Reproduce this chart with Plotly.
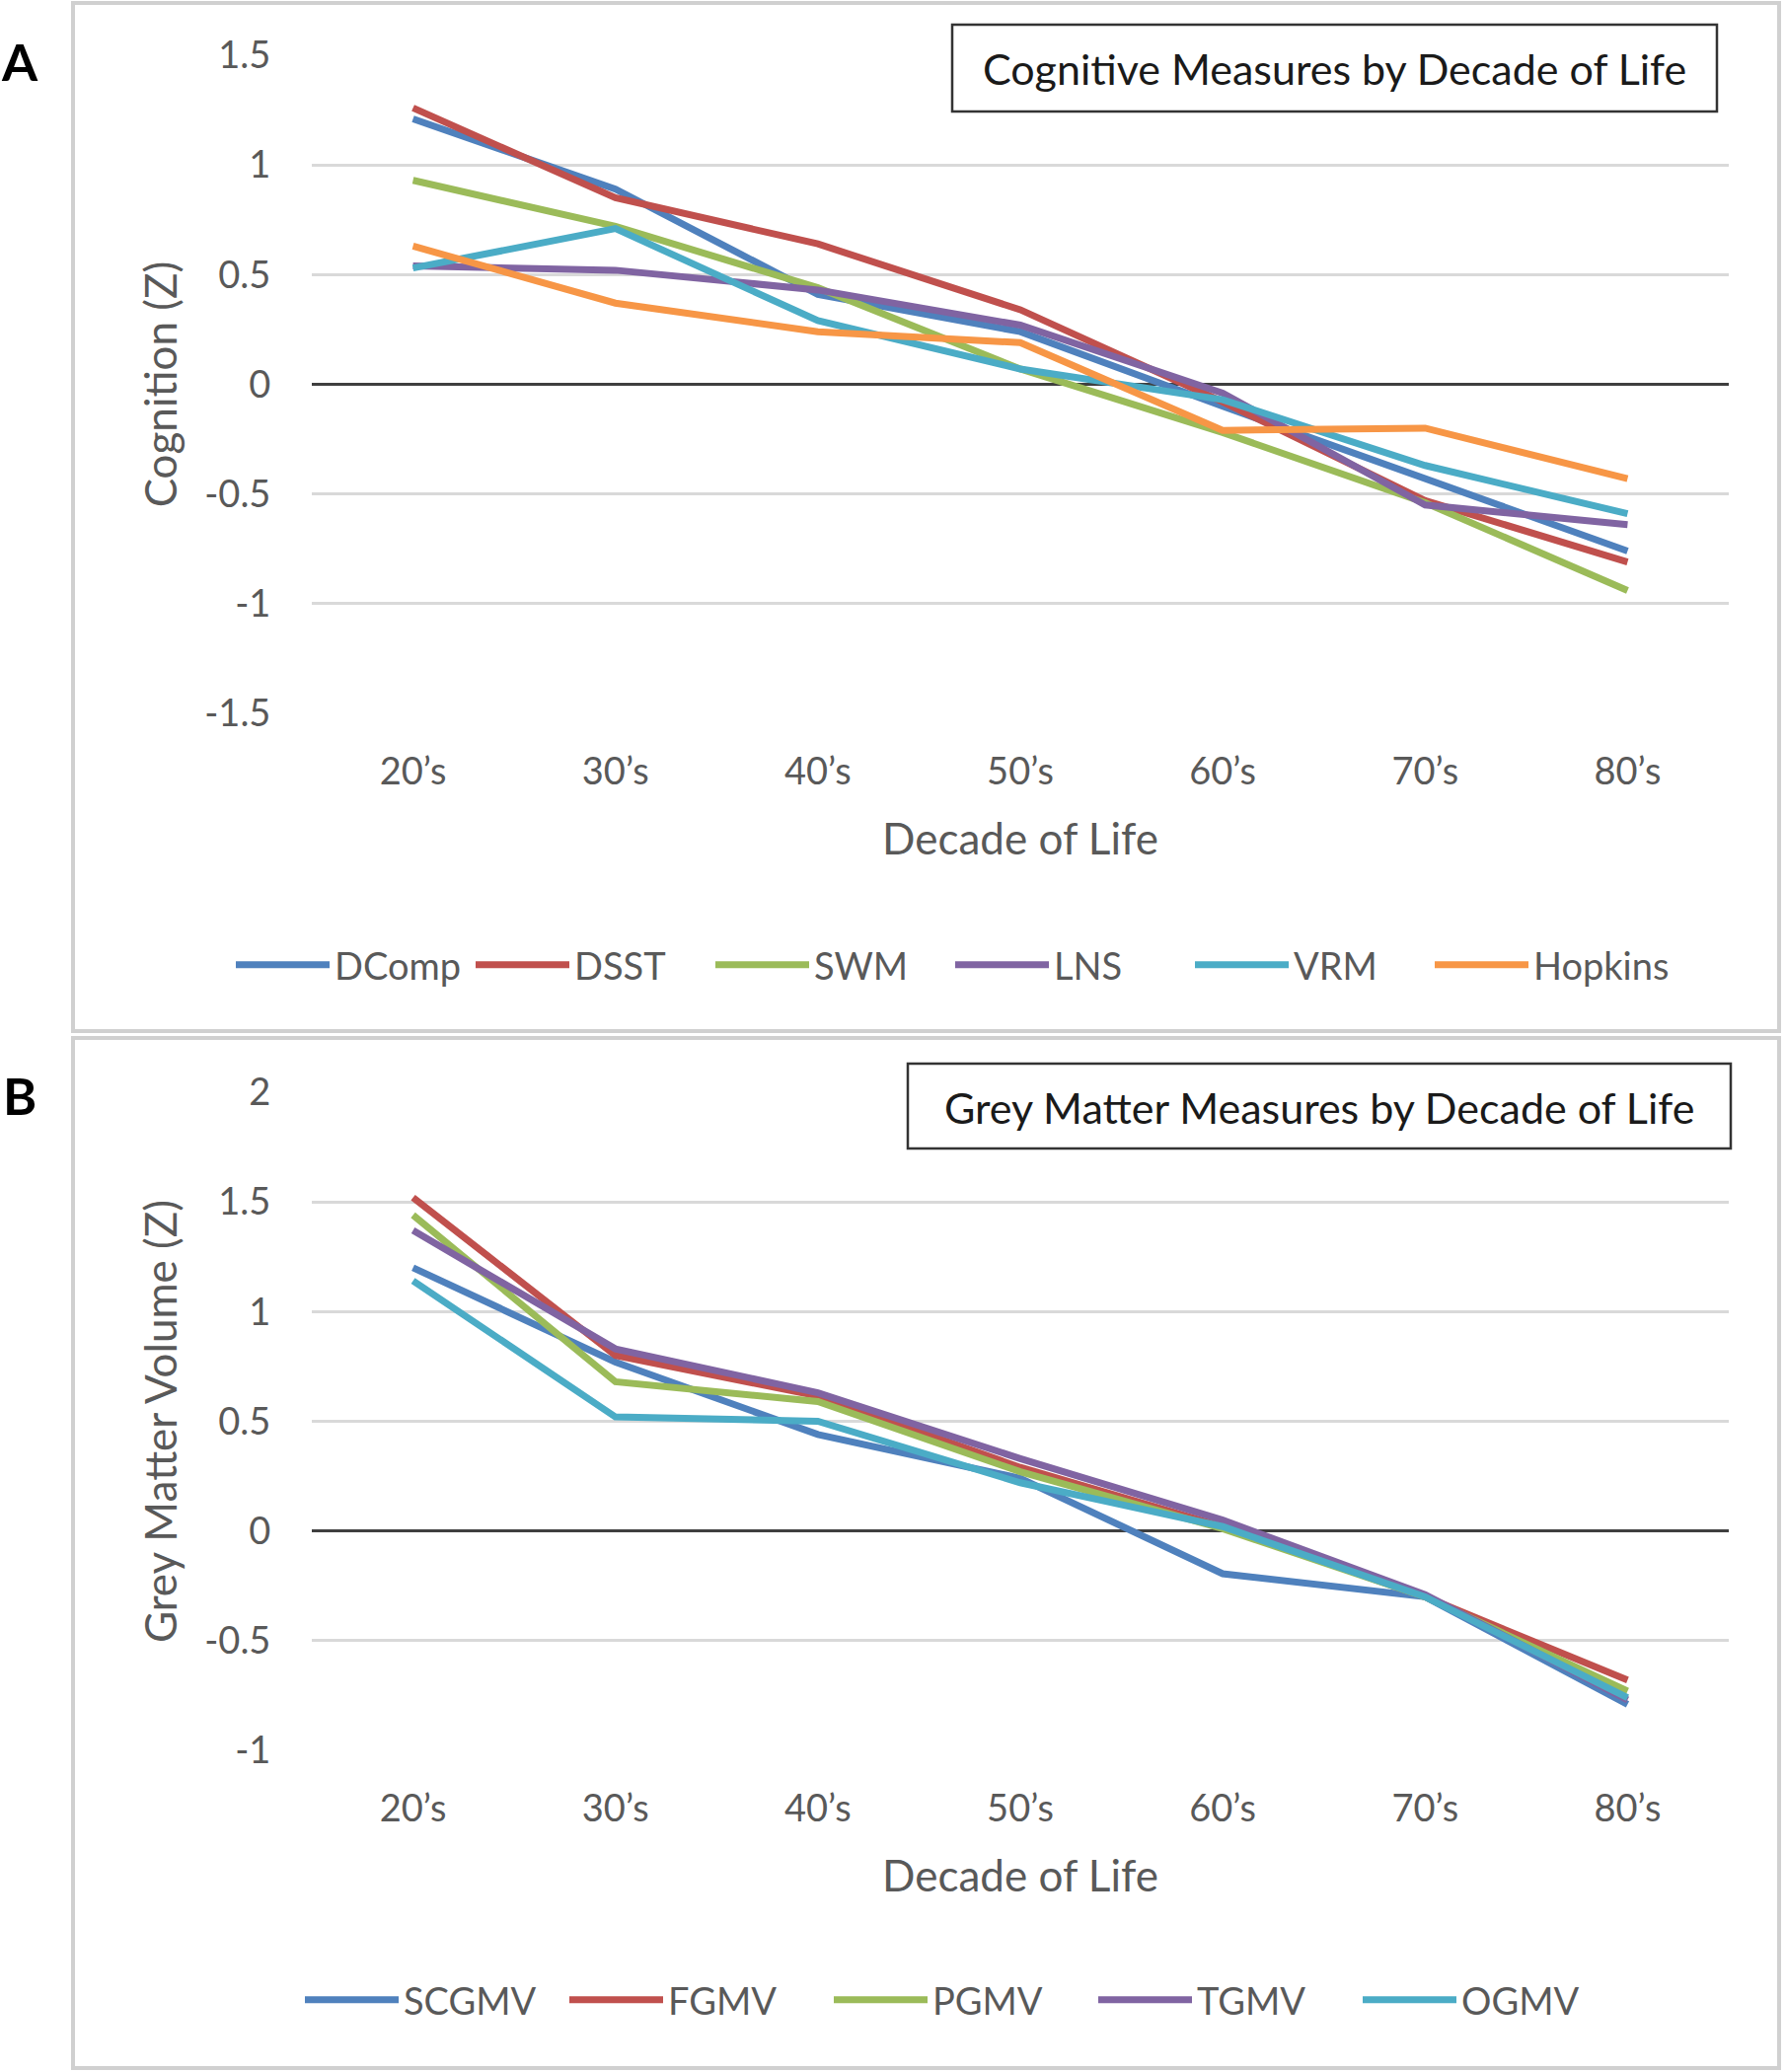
import plotly.graph_objects as go

W, H = 1810, 2100

# ---------------- data ----------------
decades = ["20’s", "30’s", "40’s", "50’s", "60’s", "70’s", "80’s"]

cog_names = ["DComp", "DSST", "SWM", "LNS", "VRM", "Hopkins"]
dcomp = [1.21, 0.89, 0.41, 0.24, -0.10, -0.43, -0.76]
dsst = [1.26, 0.85, 0.64, 0.34, -0.08, -0.53, -0.81]
swm = [0.93, 0.72, 0.44, 0.07, -0.22, -0.54, -0.94]
lns = [0.54, 0.52, 0.43, 0.27, -0.04, -0.55, -0.64]
vrm = [0.53, 0.71, 0.29, 0.07, -0.07, -0.37, -0.59]
hopkins = [0.63, 0.37, 0.24, 0.19, -0.21, -0.20, -0.43]

gm_names = ["SCGMV", "FGMV", "PGMV", "TGMV", "OGMV"]
scgmv = [1.20, 0.77, 0.44, 0.24, -0.195, -0.30, -0.79]
fgmv = [1.52, 0.80, 0.615, 0.29, 0.02, -0.30, -0.68]
pgmv = [1.44, 0.68, 0.59, 0.27, 0.01, -0.30, -0.73]
tgmv = [1.37, 0.83, 0.63, 0.33, 0.05, -0.29, -0.77]
ogmv = [1.14, 0.52, 0.50, 0.22, 0.02, -0.30, -0.76]

yticks_a = [-1.5, -1, -0.5, 0, 0.5, 1, 1.5]
yticklabels_a = ["-1.5", "-1", "-0.5", "0", "0.5", "1", "1.5"]
yticks_b = [-1, -0.5, 0, 0.5, 1, 1.5, 2]
yticklabels_b = ["-1", "-0.5", "0", "0.5", "1", "1.5", "2"]

colors = ["#4F81BD", "#C0504D", "#9BBB59", "#8064A2", "#4BACC6", "#F79646"]

# ---------------- helpers ----------------
def px(x):
    return x / W


def py(y):
    return 1 - y / H


FONT = "Lato, Carlito, 'Open Sans', sans-serif"
GREY = "#595959"
LW = 7

fig = go.Figure()

for name, vals, col in zip(cog_names, [dcomp, dsst, swm, lns, vrm, hopkins], colors):
    fig.add_trace(go.Scatter(x=decades, y=vals, name=name, mode="lines",
                             line=dict(color=col, width=LW),
                             xaxis="x", yaxis="y", legend="legend"))

for name, vals, col in zip(gm_names, [scgmv, fgmv, pgmv, tgmv, ogmv], colors):
    fig.add_trace(go.Scatter(x=decades, y=vals, name=name, mode="lines",
                             line=dict(color=col, width=LW),
                             xaxis="x2", yaxis="y2", legend="legend2"))

xdom = [px(316), px(1752)]
common_x = dict(
    type="category", range=[-0.5, 6.5], showgrid=False, zeroline=False,
    showline=False, ticks="outside", ticklen=25, tickcolor="rgba(0,0,0,0)",
    tickfont=dict(family=FONT, size=38, color=GREY), automargin=False,
    title=dict(text="Decade of Life", font=dict(family=FONT, size=44, color=GREY), standoff=33),
    domain=xdom,
)
common_y = dict(
    showgrid=True, gridcolor="#D9D9D9", gridwidth=3,
    zeroline=True, zerolinecolor="#3F3F3F", zerolinewidth=3,
    showline=False, ticks="outside", ticklen=33, tickcolor="rgba(0,0,0,0)",
    tickfont=dict(family=FONT, size=38, color=GREY), automargin=False,
)

legend_common = dict(orientation="h", xanchor="left", yanchor="middle",
                     font=dict(family=FONT, size=38, color=GREY), bgcolor="rgba(0,0,0,0)",
                     borderwidth=0, entrywidthmode="pixels", itemwidth=95)

fig.update_layout(
    width=W, height=H,
    margin=dict(l=0, r=0, t=0, b=0, autoexpand=False),
    paper_bgcolor="white", plot_bgcolor="white",
    xaxis=dict(common_x, anchor="y"),
    yaxis=dict(common_y, anchor="x", domain=[py(723), py(56)], range=[-1.5, 1.5],
               tickvals=yticks_a, ticktext=yticklabels_a,
               title=dict(text="Cognition (Z)", font=dict(family=FONT, size=44, color=GREY), standoff=13)),
    xaxis2=dict(common_x, anchor="y2"),
    yaxis2=dict(common_y, anchor="x2", domain=[py(1774), py(1107)], range=[-1, 2],
                tickvals=yticks_b, ticktext=yticklabels_b,
                title=dict(text="Grey Matter Volume (Z)", font=dict(family=FONT, size=44, color=GREY), standoff=13)),
    legend=dict(legend_common, x=px(234), y=py(978), entrywidth=133),
    legend2=dict(legend_common, x=px(304), y=py(2027), entrywidth=158),
    showlegend=True,
)

# panel borders
fig.add_shape(type="rect", xref="paper", yref="paper", x0=px(74), x1=px(1803), y0=py(3), y1=py(1045),
              line=dict(color="#D0D0D0", width=4), layer="below")
fig.add_shape(type="rect", xref="paper", yref="paper", x0=px(74), x1=px(1803), y0=py(1052), y1=py(2096),
              line=dict(color="#D0D0D0", width=4), layer="below")

# chart title boxes
fig.add_shape(type="rect", xref="paper", yref="paper", x0=px(965), x1=px(1740), y0=py(25), y1=py(113),
              line=dict(color="#333333", width=2.5), fillcolor="white", layer="above")
fig.add_shape(type="rect", xref="paper", yref="paper", x0=px(920), x1=px(1754), y0=py(1078), y1=py(1164),
              line=dict(color="#333333", width=2.5), fillcolor="white", layer="above")

fig.add_annotation(xref="paper", yref="paper", x=px((965 + 1740) / 2), y=py(70),
                   text="Cognitive Measures by Decade of Life", showarrow=False,
                   font=dict(family=FONT, size=43, color="#1A1A1A"), xanchor="center", yanchor="middle")
fig.add_annotation(xref="paper", yref="paper", x=px((920 + 1754) / 2), y=py(1122),
                   text="Grey Matter Measures by Decade of Life", showarrow=False,
                   font=dict(family=FONT, size=43, color="#1A1A1A"), xanchor="center", yanchor="middle")

# panel letters
fig.add_annotation(xref="paper", yref="paper", x=px(20), y=py(62), text="<b>A</b>", showarrow=False,
                   font=dict(family=FONT, size=52, color="black"), xanchor="center", yanchor="middle")
fig.add_annotation(xref="paper", yref="paper", x=px(20), y=py(1110), text="<b>B</b>", showarrow=False,
                   font=dict(family=FONT, size=52, color="black"), xanchor="center", yanchor="middle")

fig.write_html("out.html", config={"displayModeBar": False},
               post_script="document.body.style.margin='0';document.body.style.overflow='hidden';")
